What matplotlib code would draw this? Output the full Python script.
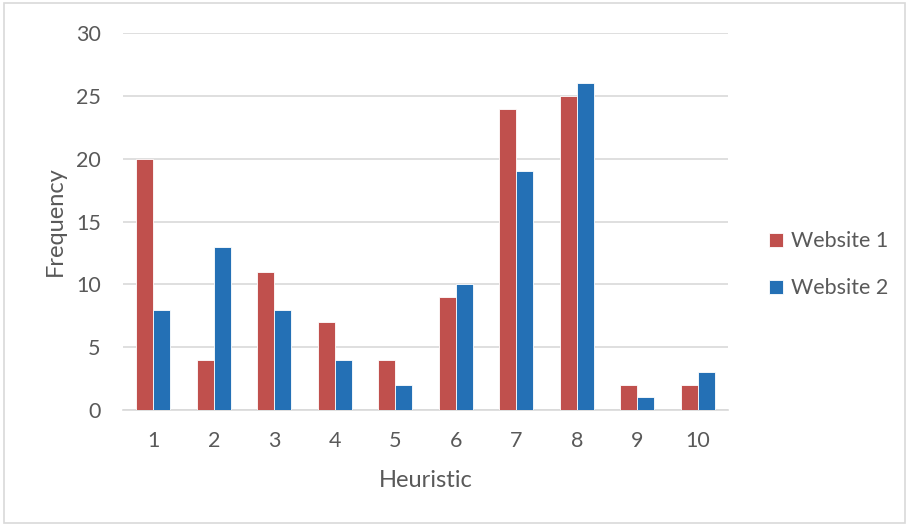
import numpy as np
import matplotlib.pyplot as plt
from matplotlib.patches import Rectangle

heuristics = ["1", "2", "3", "4", "5", "6", "7", "8", "9", "10"]
website_1 = [20, 4, 11, 7, 4, 9, 24, 25, 2, 2]
website_2 = [8, 13, 8, 4, 2, 10, 19, 26, 1, 3]

plt.rcParams["font.family"] = ["Lato", "DejaVu Sans"]
text_grey = "#595959"

fig = plt.figure(figsize=(9.09, 5.26), dpi=100)
ax = fig.add_axes([0.1353, 0.2205, 0.6657, 0.7165])

x = np.arange(len(heuristics))
width = 0.28
ax.bar(x - width / 2, website_1, width, color="#C0504D",
       edgecolor="white", linewidth=0.6, label="Website 1", zorder=3)
ax.bar(x + width / 2, website_2, width, color="#2470B5",
       edgecolor="white", linewidth=0.6, label="Website 2", zorder=3)

ax.set_xlim(-0.5, len(heuristics) - 0.5)
ax.set_ylim(0, 30)
ax.set_yticks(range(0, 31, 5))
ax.set_xticks(x)
ax.set_xticklabels(heuristics)
ax.yaxis.grid(True, color="#D9D9D9", linewidth=1.2, zorder=0)
for side in ["top", "right", "left"]:
    ax.spines[side].set_visible(False)
ax.spines["bottom"].set_color("#D9D9D9")
ax.spines["bottom"].set_linewidth(1.2)
ax.tick_params(length=0, labelsize=15.5, colors=text_grey)
ax.tick_params(axis="x", pad=15)
ax.tick_params(axis="y", pad=16)
ax.set_xlabel("Heuristic", fontsize=17, color=text_grey, labelpad=14)
ax.set_ylabel("Frequency", fontsize=17, color=text_grey, labelpad=7)

ax.legend(loc="center left", bbox_to_anchor=(1.035, 0.385), frameon=False,
          fontsize=15.5, labelcolor=text_grey, handlelength=0.65,
          handleheight=0.65, handletextpad=0.4, labelspacing=1.25)

# light frame around the whole chart
fig.patches.append(Rectangle((0.004, 0.005), 0.992, 0.99,
                             transform=fig.transFigure, fill=False,
                             edgecolor="#D9D9D9", linewidth=1.2))

fig.savefig("out.png", dpi=100)
